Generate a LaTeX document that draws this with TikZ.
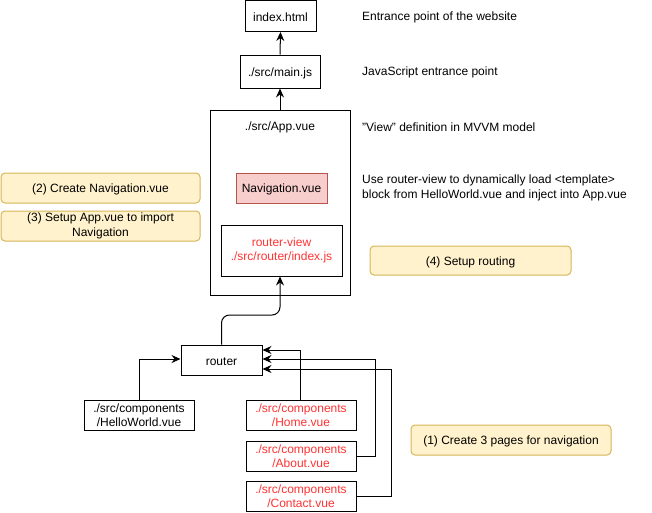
\documentclass[tikz,border=0pt]{standalone}
\usepackage{fontspec}
\setmainfont{Liberation Sans}
\usetikzlibrary{arrows.meta}
\definecolor{redtext}{RGB}{255,51,51}
\definecolor{navfill}{HTML}{F8CECC}
\definecolor{navline}{HTML}{B85450}
\definecolor{notefill}{HTML}{FFF2CC}
\definecolor{noteline}{HTML}{D6B656}
\begin{document}
\begin{tikzpicture}[x=1pt,y=-1pt,
  every node/.style={font=\fontsize{12}{14.5}\selectfont, inner sep=0pt, align=center,
    execute at begin node={\rule{0pt}{12pt}}},
  box/.style={draw=black, line width=1pt, fill=white},
  redbox/.style={box, text=redtext},
  navbox/.style={draw=navline, fill=navfill, line width=1pt},
  note/.style={draw=noteline, fill=notefill, line width=1pt, rounded corners=4pt},
  plain/.style={anchor=west, align=left},
  arr/.style={draw=black, line width=1pt, -{Stealth[length=9pt,width=8pt,inset=3pt]}}
]
\useasboundingbox (0,0) rectangle (652,512);

% main column
\node[box, minimum width=71pt, minimum height=31pt] (index) at (280.5,16) {index.html};
\node[box, minimum width=80pt, minimum height=33pt] (main) at (280,71.5) {./src/main.js};
\node[box, minimum width=140pt, minimum height=185pt, execute at begin node={}] (app) at (280,202.5) {};
\node (apptitle) at (280,126) {./src/App.vue};
\node[navbox, minimum width=91pt, minimum height=30pt] (nav) at (281.5,188) {Navigation.vue};
\node[redbox, minimum width=121pt, minimum height=51pt] (rview) at (281.5,250.5) {router-view\\./src/router/index.js};

\node[box, minimum width=81pt, minimum height=30pt] (router) at (221.5,360) {router};
\node[box, minimum width=110pt, minimum height=30pt] (hello) at (139,415) {./src/components\\/HelloWorld.vue};
\node[redbox, minimum width=110pt, minimum height=30pt] (home) at (301,415) {./src/components\\/Home.vue};
\node[redbox, minimum width=110pt, minimum height=30pt] (about) at (301,456) {./src/components\\/About.vue};
\node[redbox, minimum width=110pt, minimum height=30pt] (contact) at (301,496) {./src/components\\/Contact.vue};

% notes
\node[note, minimum width=199pt, minimum height=30pt] (n2) at (100.5,188) {(2) Create Navigation.vue};
\node[note, minimum width=199pt, minimum height=30pt] (n3) at (100.5,226) {(3) Setup App.vue to import\\Navigation};
\node[note, minimum width=201pt, minimum height=29pt] (n4) at (470.5,260.5) {(4) Setup routing};
\node[note, minimum width=200pt, minimum height=30pt] (n1) at (511,440) {(1) Create 3 pages for navigation};

% annotations
\node[plain] (t1) at (362,15.5) {Entrance point of the website};
\node[plain] (t2) at (362,70.5) {JavaScript entrance point};
\node[plain] (t3) at (362,125.5) {"View" definition in MVVM model};
\node[plain] (t4) at (362,188) {Use router-view to dynamically load <template>\\block from HelloWorld.vue and inject into App.vue};

% connectors
\draw[arr] (main.north) -- (index.south);
\draw[arr] (app.north) -- (main.south);
\draw[arr, rounded corners=8pt] (router.north) -- (router.north |- 0,315) -| ([xshift=-1.5pt]rview.south);
\draw[arr] (hello.north) |- ([yshift=1pt]router.west);
\draw[arr] ([xshift=-1pt]home.north) |- ([yshift=10pt]router.east);
\draw[arr] (about.east) -- ++(19,0) |- ([yshift=1pt]router.east);
\draw[arr] (contact.east) -- ++(35,0) |- ([yshift=-9pt]router.east);
\end{tikzpicture}
\end{document}
